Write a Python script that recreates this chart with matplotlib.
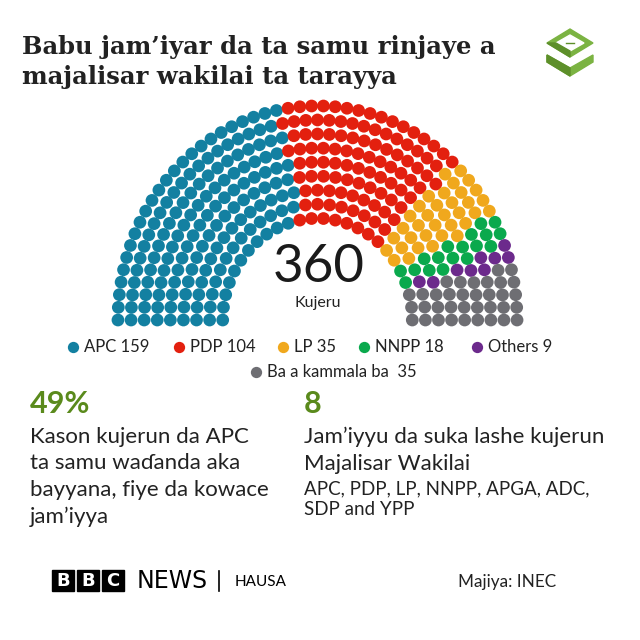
import numpy as np
import matplotlib
matplotlib.use("Agg")
import matplotlib.pyplot as plt
from matplotlib.patches import Polygon, Rectangle

# --- data ------------------------------------------------------------------
parties = ["APC", "PDP", "LP", "NNPP", "Others", "Ba a kammala ba"]
seats = [159, 104, 35, 18, 9, 35]
colors = ["#1380a1", "#e3200f", "#f0a81d", "#0aa94d", "#6c2a8c", "#6e6e73"]
legend_labels = ["APC 159", "PDP 104", "LP 35", "NNPP 18", "Others 9", "Ba a kammala ba  35"]

title = "Babu jam\u2019iyar da ta samu rinjaye a\nmajalisar wakilai ta tarayya"
total_label = "Kujeru"
stat_big = ["49%", "8"]
stat_text = ["Kason kujerun da APC\nta samu wa\u0257anda aka\nbayyana, fiye da kowace\njam\u2019iyya",
             "Jam\u2019iyyu da suka lashe kujerun\nMajalisar Wakilai"]
stat_note = "APC, PDP, LP, NNPP, APGA, ADC,\nSDP and YPP"
source = "Majiya: INEC"

SANS = ["Lato", "DejaVu Sans"]
SERIF = ["DejaVu Serif"]
TXT = "#222222"
GREEN = "#5a8a1c"

W = H = 640


def px(x, y):
    """pixel position (from top-left) -> figure fraction"""
    return x / W, 1 - y / H


def hemicycle(total, n_rows=9, r_inner=0.475):
    """seat positions of a parliament half-circle, ordered left to right by angle"""
    radii = np.linspace(r_inner, 1.0, n_rows)
    raw = total * radii / radii.sum()
    counts = np.floor(raw).astype(int)
    rem = total - counts.sum()
    counts[np.argsort(raw - counts)[::-1][:rem]] += 1
    rr, tt = [], []
    for r, n in zip(radii, counts):
        rr.append(np.full(n, r))
        tt.append(np.linspace(np.pi, 0, n))
    rr = np.concatenate(rr)
    tt = np.concatenate(tt)
    order = np.lexsort((rr, -tt))
    return rr[order] * np.cos(tt[order]), rr[order] * np.sin(tt[order])


fig = plt.figure(figsize=(6.4, 6.4), dpi=100)
fig.patch.set_facecolor("white")

# hemicycle
total = sum(seats)
x, y = hemicycle(total)
seat_colors = np.repeat(colors, seats)
ax = fig.add_axes([100 / W, 1 - 335 / H, 440 / W, 240 / H])
ax.scatter(x, y, s=84, c=seat_colors, linewidths=0)
ax.set_xlim(-1.090, 1.115)
ax.set_ylim(-0.070, 1.051)
ax.axis("off")

fig.text(*px(319, 268), str(total), family=SANS, fontsize=38, color="#1a1a1a",
         ha="center", va="center")
fig.text(*px(318, 303), total_label, family=SANS, fontsize=11.5, color=TXT,
         ha="center", va="center")

# title
fig.text(*px(22, 62), title, family=SERIF, fontsize=17.5, fontweight="bold",
         color=TXT, ha="left", va="center", linespacing=1.3)

# overlay axes in pixel units for logo / legend dots / footer blocks
ov = fig.add_axes([0, 0, 1, 1], zorder=-1)
ov.set_xlim(0, W)
ov.set_ylim(H, 0)
ov.axis("off")

# green logo
ov.add_patch(Polygon([(547, 43), (570, 29), (593, 43), (570, 57)], color="#7bb342"))
ov.add_patch(Polygon([(556, 43), (570, 35), (584, 43), (570, 51)], color="white"))
ov.add_patch(Polygon([(547, 43), (570, 57), (570, 51), (556, 43)], color="#5d8f2a"))
ov.add_patch(Polygon([(547, 55), (554, 59), (570, 68), (593, 55), (593, 62), (570, 76),
                      (547, 62)], color="#7bb342"))
ov.add_patch(Polygon([(547, 55), (570, 68), (570, 76), (547, 62)], color="#5d8f2a"))
ov.plot([566, 574], [43, 43], color="#5d8f2a", lw=1)

# legend
legend_pos = [(73, 347), (179, 347), (283, 347), (364, 347), (477, 347), (256, 372)]
for (lx, ly), c, lab in zip(legend_pos, colors, legend_labels):
    ov.scatter([lx], [ly], s=66, color=c, linewidths=0)
    fig.text(*px(lx + 11, ly), lab, family=SANS, fontsize=12, color=TXT,
             ha="left", va="center")

# stats
for sx, big, txt in zip([30, 304], stat_big, stat_text):
    fig.text(*px(sx, 404), big, family=SANS, fontsize=22, fontweight="bold",
             color=GREEN, ha="left", va="center")
    fig.text(*px(sx, 427), txt, family=SANS, fontsize=16, color=TXT,
             ha="left", va="top", linespacing=1.4)
fig.text(*px(304, 480), stat_note, family=SANS, fontsize=13.5, color=TXT,
         ha="left", va="top", linespacing=1.3)

# footer
for bx, letter in zip([52, 77, 102], "BBC"):
    ov.add_patch(Rectangle((bx, 570), 22, 21, color="black"))
    ov.text(bx + 11, 581, letter, family=["DejaVu Sans"], fontsize=13,
            fontweight="bold", color="white", ha="center", va="center")
fig.text(*px(137, 581), "NEWS", family=["DejaVu Sans"], fontsize=17, color="black",
         ha="left", va="center")
ov.plot([219, 219], [571, 591], color="black", lw=1.2)
fig.text(*px(235, 582), "HAUSA", family=SANS, fontsize=11, color="black",
         ha="left", va="center")
fig.text(*px(458, 582), source, family=SANS, fontsize=12.3, color=TXT,
         ha="left", va="center")

fig.savefig("out.png", dpi=100, facecolor="white")
